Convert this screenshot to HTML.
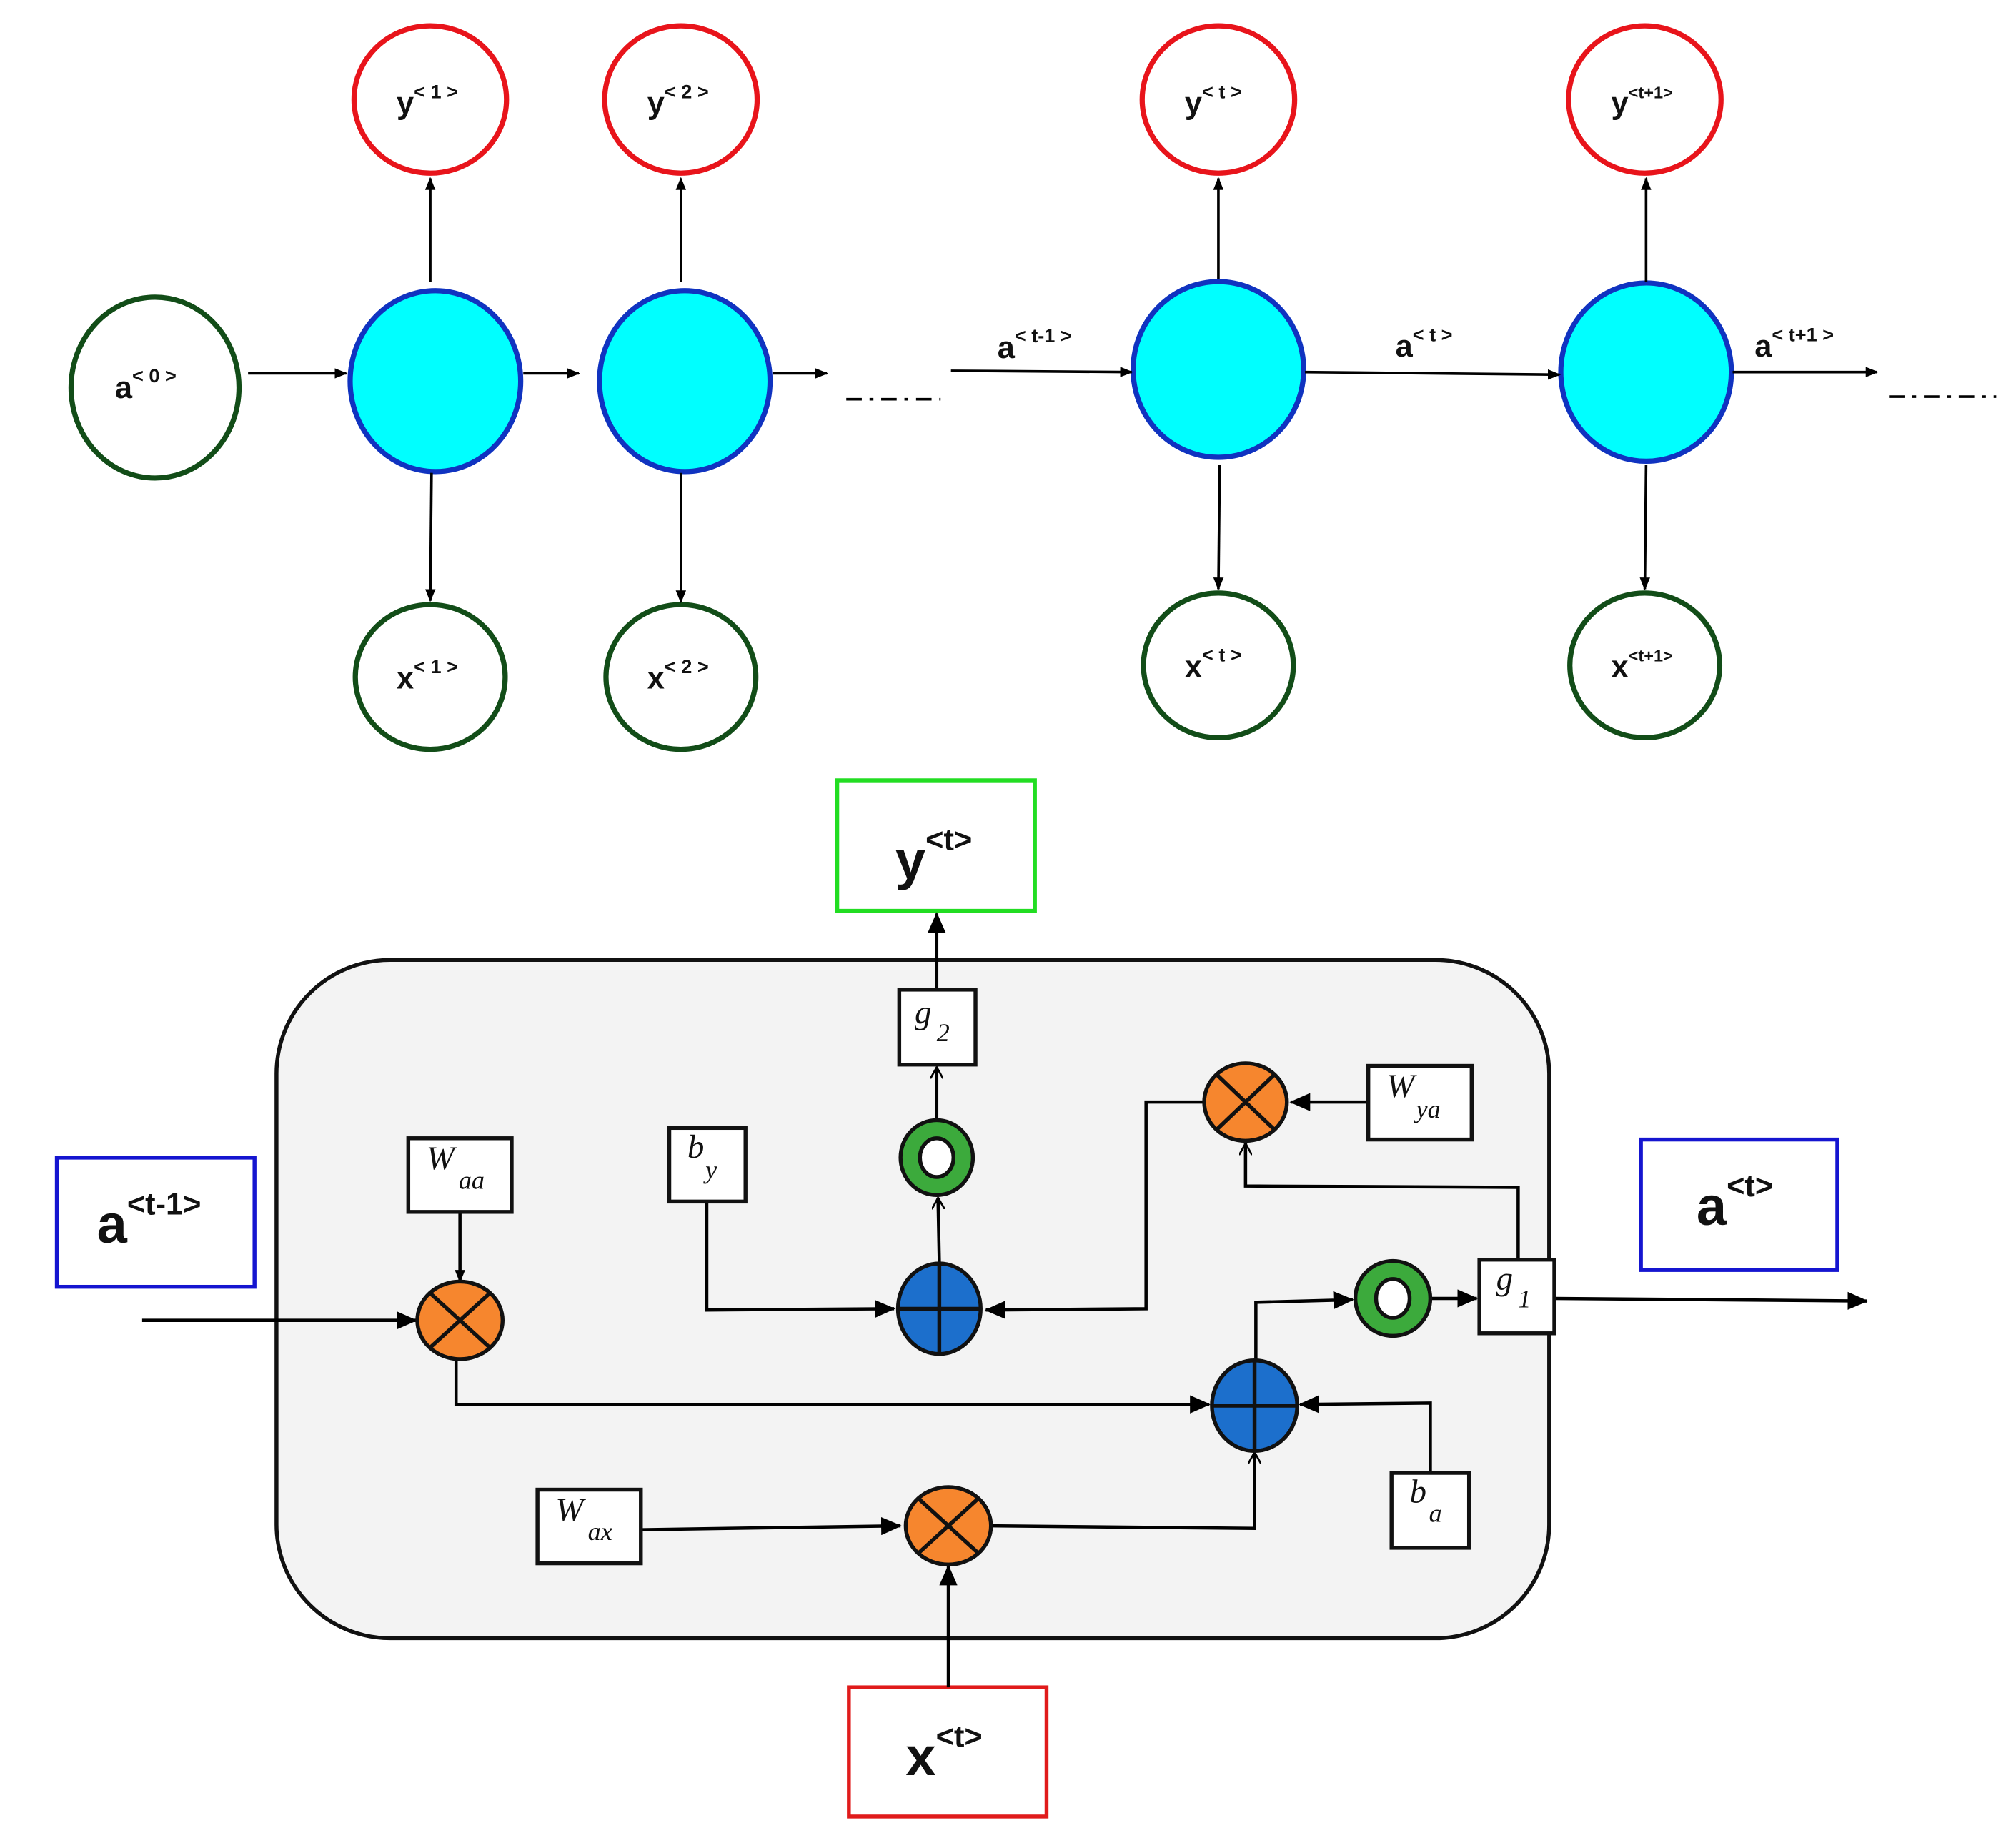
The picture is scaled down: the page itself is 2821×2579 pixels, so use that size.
<!DOCTYPE html>
<html><head><meta charset="utf-8"><style>html,body{margin:0;padding:0;background:#fff}svg{display:block}</style></head>
<body>
<svg width="2821" height="2579" viewBox="0 0 1560.3 1426.5" preserveAspectRatio="none" xmlns="http://www.w3.org/2000/svg">
<defs>
<marker id="ar" markerWidth="10" markerHeight="8" refX="9" refY="4" orient="auto" markerUnits="userSpaceOnUse"><path d="M0,0 L10,4 L0,8 z" fill="#000"/></marker>
<marker id="ar2" markerWidth="16" markerHeight="14" refX="15" refY="7" orient="auto" markerUnits="userSpaceOnUse"><path d="M0,0 L16,7 L0,14 z" fill="#000"/></marker>
<marker id="ao" markerWidth="10" markerHeight="10" refX="9" refY="5" orient="auto" markerUnits="userSpaceOnUse"><path d="M0,0 L9,5 L0,10" fill="none" stroke="#000" stroke-width="1.5"/></marker>
</defs>
<g font-family="Liberation Sans, sans-serif" font-weight="bold">
<!-- top row -->
<g fill="#fff" stroke="#e8141b" stroke-width="4">
<ellipse cx="333" cy="77" rx="59" ry="57"/><ellipse cx="527" cy="77" rx="59" ry="57"/>
<ellipse cx="943" cy="77" rx="59" ry="57"/><ellipse cx="1273" cy="77" rx="59" ry="57"/>
</g>
<g fill="#fff" stroke="#124d18" stroke-width="4">
<ellipse cx="120" cy="300" rx="65" ry="70"/>
<ellipse cx="333" cy="524" rx="58" ry="56"/><ellipse cx="527" cy="524" rx="58" ry="56"/>
<ellipse cx="943" cy="515" rx="58" ry="56"/><ellipse cx="1273" cy="515" rx="58" ry="56"/>
</g>
<g fill="#00ffff" stroke="#1033c0" stroke-width="4">
<ellipse cx="337" cy="295" rx="66" ry="70"/><ellipse cx="530" cy="295" rx="66" ry="70"/>
<ellipse cx="943" cy="286" rx="66" ry="68"/><ellipse cx="1274" cy="288" rx="66" ry="69"/>
</g>
<g stroke="#000" stroke-width="2" fill="none" marker-end="url(#ar)">
<line x1="192" y1="289" x2="268" y2="289"/><line x1="405" y1="289" x2="448" y2="289"/><line x1="598" y1="289" x2="640" y2="289"/>
<line x1="736" y1="287" x2="876" y2="288"/><line x1="1010" y1="288" x2="1207" y2="290"/><line x1="1341" y1="288" x2="1453" y2="288"/>
<line x1="333" y1="218" x2="333" y2="138"/><line x1="527" y1="218" x2="527" y2="138"/>
<line x1="943" y1="216" x2="943" y2="138"/><line x1="1274" y1="218" x2="1274" y2="138"/>
<line x1="334" y1="366" x2="333" y2="465"/><line x1="527" y1="366" x2="527" y2="466"/>
<line x1="944" y1="360" x2="943" y2="456"/><line x1="1274" y1="360" x2="1273" y2="456"/>
</g>
<g stroke="#000" stroke-width="2" stroke-dasharray="12,6,3,6">
<line x1="655" y1="309" x2="728" y2="309"/><line x1="1462" y1="307" x2="1545" y2="307"/>
</g>
<g font-size="24" fill="#111">
<text x="307" y="88">y<tspan font-size="15" dy="-12">&lt; 1 &gt;</tspan></text>
<text x="501" y="88">y<tspan font-size="15" dy="-12">&lt; 2 &gt;</tspan></text>
<text x="917" y="88">y<tspan font-size="15" dy="-12">&lt; t &gt;</tspan></text>
<text x="1247" y="88">y<tspan font-size="13" dy="-12">&lt;t+1&gt;</tspan></text>
<text x="307" y="533">x<tspan font-size="15" dy="-12">&lt; 1 &gt;</tspan></text>
<text x="501" y="533">x<tspan font-size="15" dy="-12">&lt; 2 &gt;</tspan></text>
<text x="917" y="524">x<tspan font-size="15" dy="-12">&lt; t &gt;</tspan></text>
<text x="1247" y="524">x<tspan font-size="13" dy="-12">&lt;t+1&gt;</tspan></text>
<text x="89" y="308">a<tspan font-size="15" dy="-12">&lt; 0 &gt;</tspan></text>
<text x="772" y="277">a<tspan font-size="15" dy="-12">&lt; t-1 &gt;</tspan></text>
<text x="1080" y="276">a<tspan font-size="15" dy="-12">&lt; t &gt;</tspan></text>
<text x="1358" y="276">a<tspan font-size="15" dy="-12">&lt; t+1 &gt;</tspan></text>
</g>
<!-- bottom cell -->
<rect x="214" y="743" width="985" height="525" rx="88" ry="88" fill="#f3f3f3" stroke="#111" stroke-width="3"/>
<rect x="648" y="604" width="153" height="101" fill="#fff" stroke="#22dd22" stroke-width="3"/>
<rect x="44" y="896" width="153" height="100" fill="#fff" stroke="#1515d0" stroke-width="3"/>
<rect x="1270" y="882" width="152" height="101" fill="#fff" stroke="#1515d0" stroke-width="3"/>
<rect x="657" y="1306" width="153" height="100" fill="#fff" stroke="#e01b1b" stroke-width="3"/>
<g font-size="42" fill="#111">
<text x="693" y="680">y<tspan font-size="24" dy="-22">&lt;t&gt;</tspan></text>
<text x="75" y="962">a<tspan font-size="24" dy="-22">&lt;t-1&gt;</tspan></text>
<text x="1313" y="948">a<tspan font-size="24" dy="-22">&lt;t&gt;</tspan></text>
<text x="701" y="1374">x<tspan font-size="24" dy="-22">&lt;t&gt;</tspan></text>
</g>
<!-- connectors -->
<g stroke="#000" stroke-width="2.5" fill="none">
<line x1="725" y1="766" x2="725" y2="707" marker-end="url(#ar2)"/>
<line x1="725" y1="866" x2="725" y2="826" marker-end="url(#ao)"/>
<line x1="727" y1="977" x2="726" y2="927" marker-end="url(#ao)"/>
<polyline points="547,930 547,1014 692,1013" marker-end="url(#ar2)"/>
<polyline points="932,853 887,853 887,1013 763,1014" marker-end="url(#ar2)"/>
<line x1="1059" y1="853" x2="999" y2="853" marker-end="url(#ar2)"/>
<polyline points="1175,975 1175,919 964,918 964,885" marker-end="url(#ao)"/>
<line x1="1108" y1="1005" x2="1143" y2="1005" marker-end="url(#ar2)"/>
<polyline points="972,1053 972,1008 1047,1006" marker-end="url(#ar2)"/>
<line x1="1203" y1="1005" x2="1445" y2="1007" marker-end="url(#ar2)"/>
<line x1="356" y1="938" x2="356" y2="992" marker-end="url(#ar)"/>
<line x1="110" y1="1022" x2="322" y2="1022" marker-end="url(#ar2)"/>
<polyline points="353,1052 353,1087 936,1087" marker-end="url(#ar2)"/>
<polyline points="1107,1140 1107,1086 1006,1087" marker-end="url(#ar2)"/>
<line x1="496" y1="1184" x2="697" y2="1181" marker-end="url(#ar2)"/>
<polyline points="767,1181 971,1183 971,1124" marker-end="url(#ao)"/>
<line x1="734" y1="1306" x2="734" y2="1212" marker-end="url(#ar2)"/>
</g>
<!-- boxes -->
<g fill="#fff" stroke="#111" stroke-width="3">
<rect x="696" y="766" width="59" height="58"/>
<rect x="518" y="873" width="59" height="57"/>
<rect x="1059" y="825" width="80" height="57"/>
<rect x="1145" y="975" width="58" height="57"/>
<rect x="316" y="881" width="80" height="57"/>
<rect x="1077" y="1140" width="60" height="58"/>
<rect x="416" y="1153" width="80" height="57"/>
</g>
<g font-family="Liberation Serif, serif" font-style="italic" font-weight="normal" fill="#111" font-size="26">
<text x="708" y="792">g</text><text x="725" y="806" font-size="20">2</text>
<text x="532" y="896">b</text><text x="546" y="912" font-size="20">y</text>
<text x="1073" y="849">W</text><text x="1096" y="865" font-size="20">ya</text>
<text x="1158" y="998">g</text><text x="1175" y="1012" font-size="20">1</text>
<text x="330" y="905">W</text><text x="355" y="920" font-size="20">aa</text>
<text x="1091" y="1163">b</text><text x="1106" y="1178" font-size="20">a</text>
<text x="430" y="1177">W</text><text x="455" y="1192" font-size="20">ax</text>
</g>
<!-- multiply -->
<g stroke="#111" stroke-width="3">
<g><ellipse cx="964" cy="853" rx="32" ry="30" fill="#f6862e"/><line x1="942" y1="832" x2="986" y2="874"/><line x1="986" y1="832" x2="942" y2="874"/></g>
<g><ellipse cx="356" cy="1022" rx="33" ry="30" fill="#f6862e"/><line x1="333" y1="1001" x2="379" y2="1043"/><line x1="379" y1="1001" x2="333" y2="1043"/></g>
<g><ellipse cx="734" cy="1181" rx="33" ry="30" fill="#f6862e"/><line x1="711" y1="1160" x2="757" y2="1202"/><line x1="757" y1="1160" x2="711" y2="1202"/></g>
<!-- plus -->
<g><ellipse cx="727" cy="1013" rx="32" ry="35" fill="#1c6fcc"/><line x1="695" y1="1013" x2="759" y2="1013"/><line x1="727" y1="978" x2="727" y2="1048"/></g>
<g><ellipse cx="971" cy="1088" rx="33" ry="35" fill="#1c6fcc"/><line x1="938" y1="1088" x2="1004" y2="1088"/><line x1="971" y1="1053" x2="971" y2="1123"/></g>
<!-- rings -->
<g><ellipse cx="725" cy="896" rx="28" ry="29" fill="#3caa3c"/><ellipse cx="725" cy="896" rx="13" ry="15" fill="#fff"/></g>
<g><ellipse cx="1078" cy="1005" rx="29" ry="29" fill="#3caa3c"/><ellipse cx="1078" cy="1005" rx="13" ry="15" fill="#fff"/></g>
</g>
</g>
</svg>
</body></html>
